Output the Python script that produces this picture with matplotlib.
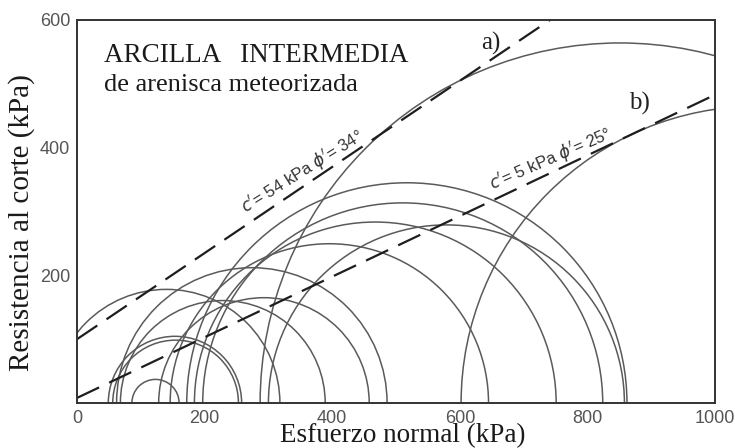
import numpy as np
import matplotlib.pyplot as plt
from matplotlib.patches import Arc

# --- Mohr circles: minor / major principal stress (kPa) ---
sigma3 = [86, 49, 56, -38, 68, 128, 62, 146, 184, 197, 172, 300, 287, 602]
sigma1 = [160, 258, 253, 318, 389, 458, 486, 645, 751, 824, 862, 858, 1415, 1532]

# --- failure envelopes as drawn: intercept (kPa), angle (deg) ---
env_c = [100, 8]
env_phi = [34, 25.4]
env_text = ["$c'$= 54 kPa $\\phi'$= 34°", "$c'$= 5 kPa $\\phi'$= 25°"]
env_text_x = [270, 655]
env_tag = ["a)", "b)"]
env_tag_xy = [(634, 553), (866, 459)]

x_ticks = [0, 200, 400, 600, 800, 1000]
y_ticks = [200, 400, 600]

fig = plt.figure(figsize=(7.35, 4.48), dpi=100)
ax = fig.add_axes([0.1048, 0.1004, 0.868, 0.855])

circle_col = '#5a5a5a'
for s3, s1 in zip(sigma3, sigma1):
    centre = (s3 + s1) / 2
    diam = s1 - s3
    ax.add_patch(Arc((centre, 0), diam, diam, theta1=0, theta2=180,
                     color=circle_col, lw=1.1))

xs = np.array([0, 1000])
for c, phi in zip(env_c, env_phi):
    ax.plot(xs, c + np.tan(np.radians(phi)) * xs, color='#1e1e1e', lw=1.6,
            dashes=(11, 5))

for c, phi, txt, tx in zip(env_c, env_phi, env_text, env_text_x):
    ty = c + np.tan(np.radians(phi)) * tx
    ax.text(tx, ty + 6, txt, rotation=phi - 2, rotation_mode='anchor',
            ha='left', va='bottom', fontsize=12, color='#333333',
            family='Liberation Sans')

for tag, (tx, ty) in zip(env_tag, env_tag_xy):
    ax.text(tx, ty, tag, fontsize=18, family='Liberation Serif', color='#222222',
            ha='left', va='baseline')

ax.text(42, 534, "ARCILLA   INTERMEDIA", fontsize=19.5, family='Liberation Serif',
        color='#1a1a1a', ha='left', va='baseline')
ax.text(42, 489, "de arenisca meteorizada", fontsize=19, family='Liberation Serif',
        color='#1a1a1a', ha='left', va='baseline')

ax.set_xlim(0, 1000)
ax.set_ylim(0, 600)
ax.set_xticks(x_ticks)
ax.set_yticks(y_ticks)
ax.tick_params(length=0, labelsize=13, labelcolor='#555555', pad=5)
for lab in ax.get_xticklabels() + ax.get_yticklabels():
    lab.set_family('Liberation Sans')
for sp in ax.spines.values():
    sp.set_color('#333333')
    sp.set_linewidth(1.4)

fig.text(403 / 735, 1 - 436 / 448, "Esfuerzo normal (kPa)", fontsize=19.5,
         family='Liberation Serif', color='#1a1a1a', ha='center', va='center')
fig.text(22 / 735, 1 - 223 / 448, "Resistencia al corte (kPa)", fontsize=21,
         family='Liberation Serif', color='#1a1a1a', ha='center', va='center',
         rotation=90)

fig.savefig("out.png", dpi=100)
